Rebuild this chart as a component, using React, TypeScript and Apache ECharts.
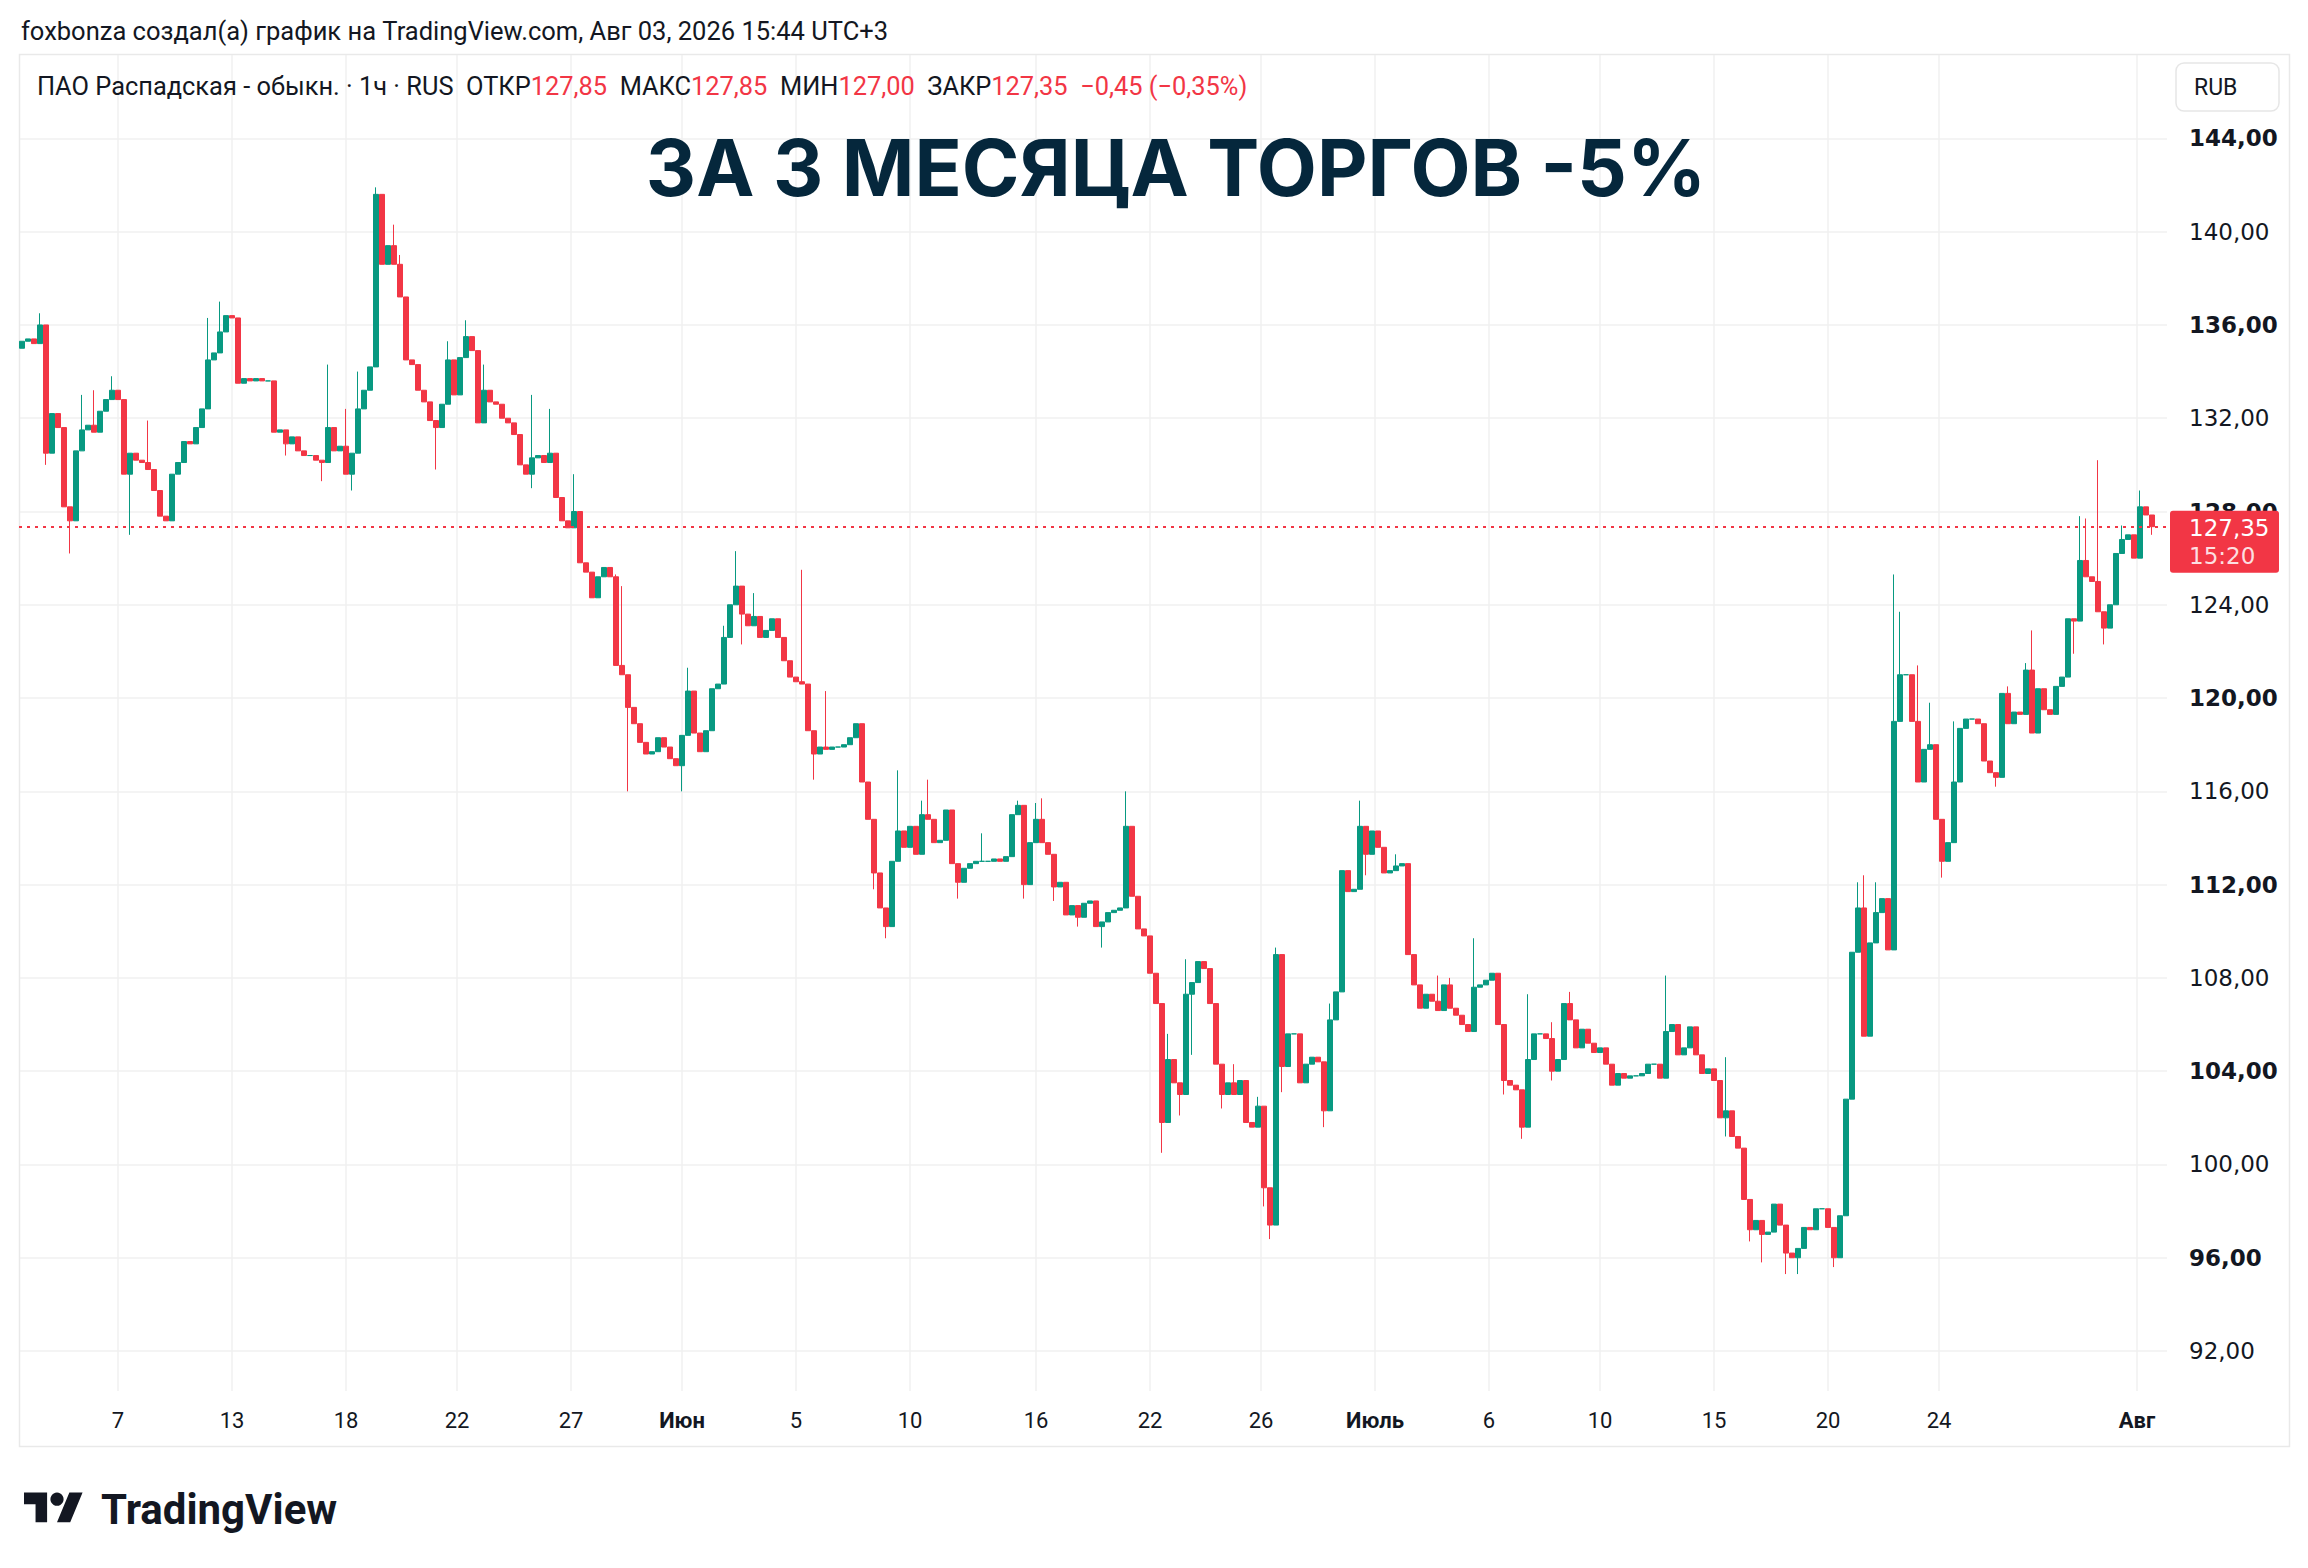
import React, { useEffect, useRef } from "react";
import * as echarts from "echarts";

const W = 2308;
const H = 1568;

// Close of each bar (≈ two-three hourly candles per bar)
const closes = [
  135.3, 135.4, 135.2, 136.0, 130.5, 132.2, 131.6, 128.2, 127.6, 130.6,
  131.5, 131.7, 131.4, 132.3, 132.8, 133.2, 132.8, 129.6, 130.5, 130.2,
  130.1, 129.8, 128.9, 127.8, 127.6, 129.6, 130.1, 131.0, 130.9, 131.6,
  132.4, 134.5, 134.8, 135.7, 136.4, 136.3, 133.5, 133.7, 133.6, 133.7,
  133.6, 133.6, 131.4, 131.5, 130.9, 131.2, 130.6, 130.4, 130.4, 130.2,
  130.1, 131.6, 130.6, 130.8, 129.6, 130.5, 132.4, 133.2, 134.2, 141.6,
  138.6, 139.4, 138.6, 137.2, 134.5, 134.3, 133.2, 132.7, 131.9, 131.6,
  132.6, 134.5, 133.0, 134.6, 135.5, 134.9, 131.8, 133.2, 132.7, 132.6,
  132.0, 131.8, 131.3, 130.0, 129.6, 130.3, 130.4, 130.1, 130.5, 128.6,
  127.6, 127.3, 128.0, 125.8, 125.4, 124.3, 125.2, 125.6, 125.2, 121.4,
  121.0, 119.6, 118.9, 118.1, 117.6, 117.7, 118.3, 117.9, 117.4, 117.1,
  118.4, 120.3, 118.5, 117.7, 118.6, 120.4, 120.6, 122.6, 124.0, 124.8,
  123.6, 123.1, 123.5, 122.6, 122.9, 123.4, 122.6, 121.6, 120.9, 120.7,
  120.6, 118.6, 117.6, 117.9, 117.8, 117.9, 117.9, 118.0, 118.3, 118.9,
  116.4, 114.8, 112.5, 111.0, 110.2, 113.0, 114.3, 113.6, 114.5, 113.3,
  115.0, 114.8, 113.8, 113.9, 115.2, 112.9, 112.1, 112.7, 112.9, 113.0,
  113.0, 113.0, 113.1, 113.0, 113.2, 115.0, 115.4, 112.0, 113.8, 114.8,
  113.8, 113.3, 111.9, 112.1, 110.7, 111.1, 110.6, 111.2, 111.3, 110.2,
  110.4, 110.8, 110.9, 111.0, 114.5, 111.5, 110.1, 109.8, 108.2, 106.9,
  101.8, 104.5, 103.5, 103.0, 107.3, 107.8, 108.7, 108.4, 106.9, 104.3,
  103.0, 103.5, 103.0, 103.6, 101.8, 101.6, 102.5, 99.0, 97.4, 109.0,
  104.2, 105.6, 105.6, 103.5, 104.3, 104.6, 104.4, 102.3, 106.2, 107.4,
  112.6, 111.7, 111.8, 114.5, 113.3, 114.3, 113.6, 112.5, 112.6, 112.8,
  112.9, 109.0, 107.7, 106.7, 107.3, 107.0, 106.6, 107.7, 106.7, 106.4,
  106.0, 105.7, 107.6, 107.7, 107.9, 108.2, 106.0, 103.6, 103.4, 103.2,
  101.6, 104.5, 105.6, 105.6, 105.4, 104.0, 104.5, 106.9, 106.2, 105.0,
  105.8, 105.2, 104.8, 105.0, 104.3, 103.4, 103.9, 103.7, 103.8, 103.8,
  103.9, 104.3, 104.3, 103.7, 105.7, 106.0, 104.7, 105.0, 105.9, 104.7,
  103.9, 104.1, 103.6, 102.0, 102.3, 101.2, 100.7, 98.5, 97.2, 97.6,
  97.0, 97.1, 98.3, 97.4, 96.2, 96.0, 96.4, 97.3, 97.2, 98.1,
  98.1, 97.3, 96.0, 97.8, 102.8, 109.1, 111.0, 105.5, 109.5, 110.8,
  111.4, 109.2, 119.0, 121.0, 121.0, 119.0, 116.4, 117.8, 118.0, 114.8,
  113.0, 113.8, 116.4, 118.7, 119.1, 119.1, 118.9, 117.3, 116.8, 116.6,
  120.2, 118.9, 119.4, 119.3, 121.2, 118.5, 120.4, 119.5, 119.3, 120.5,
  120.9, 123.4, 123.3, 125.9, 125.2, 125.0, 123.7, 123.0, 124.0, 126.2,
  126.8, 127.0, 126.0, 128.2, 127.85, 127.35,
];
const firstOpen = 135.0;

// Notable wicks [bar index, price]
const wickHighs: [number, number][] = [
  [3, 136.5], [10, 133.0], [12, 133.2], [15, 133.8], [21, 131.9], [31, 136.3], [33, 137.0],
  [51, 134.3], [54, 132.4], [56, 134.0], [59, 141.9], [62, 140.3], [63, 139.0], [71, 135.3],
  [74, 136.2], [77, 134.3], [85, 133.0], [88, 132.4], [92, 129.6], [99, 125.3], [100, 124.8],
  [111, 121.3], [117, 123.1], [119, 126.3], [122, 124.5], [130, 125.5], [134, 120.3],
  [146, 116.9], [150, 115.6], [151, 116.5], [160, 114.2], [166, 115.6], [169, 115.5],
  [170, 115.7], [184, 116.0], [191, 105.6], [194, 108.8], [202, 104.3], [206, 102.9],
  [209, 109.3], [218, 106.9], [223, 115.6], [229, 113.3], [236, 108.1], [238, 108.0],
  [242, 109.7], [251, 107.3], [255, 106.1], [258, 107.4], [274, 108.1], [284, 104.6],
  [306, 112.1], [307, 112.4], [309, 112.1], [312, 125.3], [313, 123.7], [316, 121.4],
  [318, 119.8], [322, 119.0], [327, 118.5], [331, 120.5], [334, 121.5], [335, 122.9],
  [343, 127.8], [344, 127.7], [346, 130.2], [350, 127.4], [353, 128.9],
];
const wickLows: [number, number][] = [
  [4, 130.0], [8, 126.2], [18, 127.0], [44, 130.4], [50, 129.3], [55, 128.9], [69, 129.8],
  [85, 129.0], [101, 116.0], [110, 116.0], [120, 122.3], [132, 116.5], [142, 111.8],
  [144, 109.7], [156, 111.4], [167, 111.4], [172, 111.3], [176, 110.2], [180, 109.3],
  [190, 100.5], [193, 102.1], [195, 104.7], [200, 102.4], [207, 98.2], [208, 96.8],
  [210, 103.1], [217, 101.6], [224, 112.4], [247, 103.0], [250, 101.1], [255, 103.6],
  [284, 101.2], [288, 96.7], [290, 95.8], [294, 95.3], [296, 95.3], [302, 95.6],
  [320, 112.3], [329, 116.2], [342, 121.9], [347, 122.3], [355, 127.0],
];

const lastClose = 127.35;
const lastTime = "15:20";
const barSlots = 358; // bars + right offset

const priceMin = 88;
const priceMax = 148;
const priceStep = 4;

// Time axis: label positions on a 3-px slot scale and their texts
const timeSlotCount = 715;
const timeSlots = [32, 70, 108, 145, 183, 220, 258, 296, 338, 376, 413, 451, 489, 526, 564, 602, 639, 705];
const timeLabels = ["7", "13", "18", "22", "27", "Июн", "5", "10", "16", "22", "26", "Июль", "6", "10", "15", "20", "24", "Авг"];
const monthNames = ["Июн", "Июль", "Авг"];

const headerText = "foxbonza создал(а) график на TradingView.com, Авг 03, 2026 15:44 UTC+3";
const symbolText = "ПАО Распадская - обыкн. · 1ч · RUS";
const ohlcLabels = ["ОТКР", "МАКС", "МИН", "ЗАКР"];
const ohlcValues = ["127,85", "127,85", "127,00", "127,35"];
const changeText = "−0,45 (−0,35%)";
const titleText = "ЗА 3 МЕСЯЦА ТОРГОВ -5%";

const UP = "#089981";
const DOWN = "#f23645";
const INK = "#131722";
const GRID = "#f0f0f0";
const FONT = "Roboto, 'Noto Sans', sans-serif";
const NUM_FONT = "'DejaVu Sans', Roboto, sans-serif";

let logoReady = false;
function ensureLogo() {
  if (logoReady) return;
  echarts.graphic.registerShape(
    "tvLogo",
    echarts.graphic.extendPath("M14 22H7V11H0V4h14v18zM28 22h-8l7.5-18h8L28 22z", {})
  );
  logoReady = true;
}

function buildCandles() {
  const hi = new Map(wickHighs);
  const lo = new Map(wickLows);
  return closes.map((c, i) => {
    const o = i === 0 ? firstOpen : closes[i - 1];
    const h = Math.max(o, c, hi.get(i) ?? -Infinity);
    const l = Math.min(o, c, lo.get(i) ?? Infinity);
    return [o, c, l, h];
  });
}

function fmtPrice(v: number) {
  return v.toFixed(2).replace(".", ",");
}

function buildOption() {
  const slotLabel = new Map<number, string>(timeSlots.map((s, k) => [s, timeLabels[k]]));
  const slotsA = Array.from({ length: timeSlotCount }, (_, k) => String(k));
  const slotsB = Array.from({ length: barSlots }, (_, k) => String(k));
  const showSlot = (index: number) => slotLabel.has(index);

  let legend = `{k|${symbolText}}`;
  ohlcLabels.forEach((lbl, k) => {
    legend += `{k|  ${lbl}}{v|${ohlcValues[k]}}`;
  });
  legend += `{v|  ${changeText}}`;

  const s = 1.65;
  const lx = 24;
  const ly = 1486;

  return {
    animation: false,
    backgroundColor: "#ffffff",
    grid: [
      { left: 22, right: W - 2164, top: 54, bottom: H - 1391 },
      { left: 19, right: W - 2167, top: 45.1, bottom: H - 1444.3 },
    ],
    xAxis: [
      {
        type: "category",
        gridIndex: 0,
        data: slotsA,
        boundaryGap: false,
        axisLine: { show: false },
        axisTick: { show: false },
        axisLabel: {
          interval: (index: number) => showSlot(index),
          formatter: (value: string) => {
            const lbl = slotLabel.get(Number(value)) ?? "";
            return monthNames.includes(lbl) ? `{b|${lbl}}` : `{n|${lbl}}`;
          },
          margin: 18,
          rich: {
            b: { fontSize: 22, fontWeight: "bold", color: INK, fontFamily: FONT },
            n: { fontSize: 22, color: INK, fontFamily: FONT },
          },
        },
        splitLine: {
          show: true,
          interval: (index: number) => showSlot(index),
          lineStyle: { color: GRID, width: 1.5 },
        },
      },
      { type: "category", gridIndex: 1, data: slotsB, show: false },
    ],
    yAxis: [
      { type: "value", gridIndex: 0, show: false, min: 0, max: 1 },
      {
        type: "value",
        gridIndex: 1,
        position: "right",
        min: priceMin,
        max: priceMax,
        interval: priceStep,
        axisLine: { show: false },
        axisTick: { show: false },
        axisLabel: {
          margin: 22,
          align: "left",
          showMinLabel: false,
          showMaxLabel: false,
          formatter: (v: number) => {
            if (v <= priceMin || v >= priceMax) return "";
            return v % 8 === 0 ? `{b|${fmtPrice(v)}}` : `{n|${fmtPrice(v)}}`;
          },
          rich: {
            b: { fontSize: 23, fontWeight: "bold", color: INK, fontFamily: NUM_FONT },
            n: { fontSize: 23, color: INK, fontFamily: NUM_FONT },
          },
        },
        splitLine: {
          show: true,
          showMinLine: false,
          showMaxLine: false,
          lineStyle: { color: GRID, width: 1.5 },
        },
      },
    ],
    series: [
      {
        type: "candlestick",
        xAxisIndex: 1,
        yAxisIndex: 1,
        data: buildCandles(),
        barWidth: 5,
        itemStyle: {
          color: UP,
          color0: DOWN,
          borderColor: UP,
          borderColor0: DOWN,
          borderWidth: 1,
        },
        markLine: {
          silent: true,
          symbol: ["none", "none"],
          label: { show: false },
          lineStyle: { color: DOWN, type: [3, 5], width: 2 },
          data: [{ yAxis: lastClose }],
        },
      },
    ],
    graphic: [
      {
        id: "frame",
        type: "rect",
        shape: { x: 19.5, y: 54.5, width: 2270, height: 1392 },
        style: { fill: "none", stroke: "#e9e9e9", lineWidth: 1.5 },
        silent: true,
        z: 1,
      },
      {
        id: "header",
        type: "text",
        x: 21,
        y: 31,
        style: { text: headerText, fontSize: 25.5, fontFamily: FONT, fill: INK, verticalAlign: "middle" },
        z: 10,
      },
      {
        id: "legend",
        type: "text",
        x: 37,
        y: 86,
        style: {
          text: legend,
          verticalAlign: "middle",
          rich: {
            k: { fontSize: 25.4, fontFamily: FONT, fill: INK, color: INK },
            v: { fontSize: 25.4, fontFamily: FONT, fill: DOWN, color: DOWN },
          },
        },
        z: 10,
      },
      {
        id: "title",
        type: "text",
        x: 1176,
        y: 167,
        style: {
          text: titleText,
          fontSize: 78,
          fontWeight: "bold",
          fontFamily: "Inter, Roboto, sans-serif",
          fill: "#05273c",
          align: "center",
          verticalAlign: "middle",
        },
        z: 10,
      },
      {
        id: "rubBox",
        type: "rect",
        shape: { x: 2176, y: 63, width: 103, height: 48, r: 8 },
        style: { fill: "#ffffff", stroke: "#e6e6e6", lineWidth: 1.5 },
        z: 10,
      },
      {
        id: "rubText",
        type: "text",
        x: 2194,
        y: 87,
        style: { text: "RUB", fontSize: 23, fontFamily: FONT, fill: INK, verticalAlign: "middle" },
        z: 11,
      },
      {
        id: "logoMark",
        type: "tvLogo",
        x: lx,
        y: ly,
        scaleX: s,
        scaleY: s,
        style: { fill: INK },
        z: 10,
      },
      {
        id: "logoDot",
        type: "circle",
        shape: { cx: lx + 20 * s, cy: ly + 8 * s, r: 4 * s },
        style: { fill: INK },
        z: 10,
      },
      {
        id: "logoText",
        type: "text",
        x: 101,
        y: 1509,
        style: {
          text: "TradingView",
          fontSize: 42,
          fontWeight: "bold",
          fontFamily: FONT,
          fill: INK,
          verticalAlign: "middle",
        },
        z: 10,
      },
    ],
  };
}

function priceBox(py: number) {
  return [
    {
      id: "pxBox",
      type: "rect",
      shape: { x: 2170, y: py - 16, width: 109, height: 62, r: 3 },
      style: { fill: DOWN },
      z: 20,
    },
    {
      id: "pxVal",
      type: "text",
      x: 2189,
      y: py + 1,
      style: { text: fmtPrice(lastClose), fontSize: 23, fontFamily: NUM_FONT, fill: "#ffffff", verticalAlign: "middle" },
      z: 21,
    },
    {
      id: "pxTime",
      type: "text",
      x: 2189,
      y: py + 29,
      style: { text: lastTime, fontSize: 23, fontFamily: NUM_FONT, fill: "rgba(255,255,255,0.85)", verticalAlign: "middle" },
      z: 21,
    },
  ];
}

export default function App() {
  const ref = useRef<HTMLDivElement>(null);
  useEffect(() => {
    if (!ref.current) return;
    ensureLogo();
    const chart = echarts.init(ref.current, null, { renderer: "svg" });
    chart.setOption(buildOption() as any);
    const py = chart.convertToPixel({ yAxisIndex: 1 } as any, lastClose) as unknown as number;
    chart.setOption({ graphic: priceBox(py) } as any);
    return () => chart.dispose();
  }, []);
  return (
    <div
      ref={ref}
      style={{ position: "fixed", left: 0, top: 0, width: W, height: H, background: "#ffffff" }}
    />
  );
}
